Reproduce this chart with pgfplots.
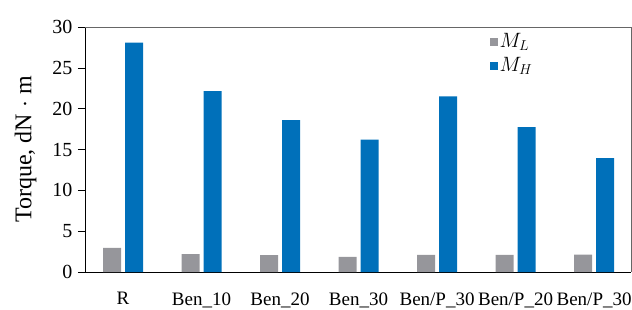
\documentclass[border=0pt]{standalone}
\usepackage{fontspec}
\setmainfont{Liberation Serif}
\usepackage{pgfplots}
\pgfplotsset{compat=1.18}
\definecolor{mgrey}{RGB}{150,150,155}
\definecolor{mblue}{RGB}{0,112,186}
\begin{document}
\fontsize{19}{23}\selectfont
\begin{tikzpicture}
\begin{axis}[
  scale only axis, width=546pt, height=245pt,
  xmin=-0.484, xmax=6.47, ymin=0, ymax=30,
  ybar=4pt, bar width=18pt,
  axis x line*=bottom, axis y line*=left,
  axis line style={black, line width=0.9pt},
  xtick={0,...,6},
  xticklabels={R,Ben\_10,Ben\_20,Ben\_30,Ben/P\_30,Ben/P\_20,Ben/P\_30},
  x tick style={draw=none},
  ytick={0,5,...,30},
  y tick style={black, line width=0.6pt},
  tick align=outside, major tick length=7pt,
  /pgf/number format/assume math mode=true,
  tick label style={font=\fontsize{19}{23}\selectfont},
  xticklabel style={yshift=-7pt},
  yticklabel style={xshift=1pt, font=\fontsize{20}{24}\selectfont},
  ylabel={Torque, dN $\cdot$ m},
  ylabel style={font=\fontsize{24}{28}\selectfont, xshift=0pt, yshift=3pt},
  legend style={draw=none, fill=none, at={(0.735,0.99)}, anchor=north west,
    font=\fontsize{20}{24}\selectfont, row sep=3pt, legend cell align=left},
  legend image code/.code={\fill[#1] (0pt,-4pt) rectangle (8pt,4pt);},
  clip=false,
]
\addplot[fill=mgrey, draw=none] coordinates {(0,2.94) (1,2.2) (2,2.08) (3,1.85) (4,2.1) (5,2.1) (6,2.12)};
\addplot[fill=mblue, draw=none] coordinates {(0,28.1) (1,22.15) (2,18.6) (3,16.2) (4,21.5) (5,17.75) (6,13.95)};
\legend{$M_L$,$M_H$}
\draw[gray!80!black, line width=0.7pt] (rel axis cs:0,1) -- (rel axis cs:1,1) -- (rel axis cs:1,0);
\end{axis}
\pgfresetboundingbox
\path (current axis.south west) ++(-85pt,-37pt) coordinate (bl);
\path (current axis.north east) ++(1pt,27pt) coordinate (tr);
\path (bl) rectangle (tr);
\end{tikzpicture}
\end{document}
